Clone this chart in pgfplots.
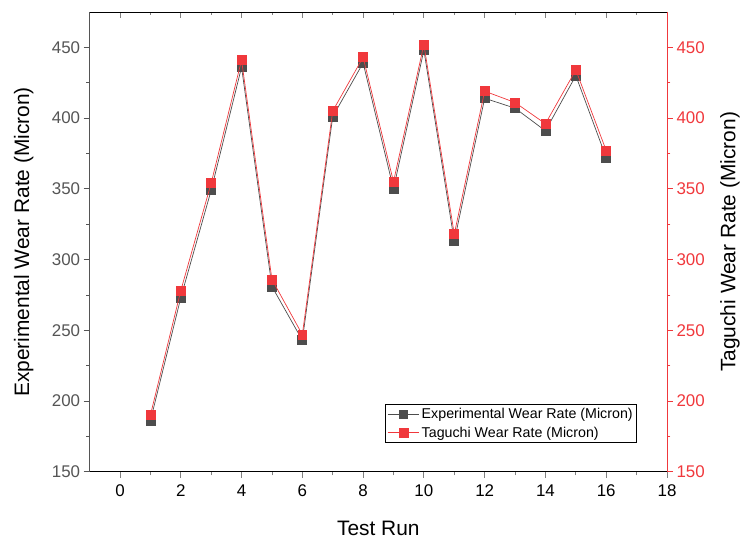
\documentclass[border=0pt]{standalone}
\usepackage{pgfplots}
\pgfplotsset{compat=1.18}
\usepackage{fontspec}
\setmainfont{Liberation Sans}
\definecolor{expc}{HTML}{4D4D4D}
\definecolor{tagc}{HTML}{F0383C}
\definecolor{axg}{HTML}{555555}
\begin{document}
\begin{tikzpicture}
\pgfplotsset{
  common/.style={
    scale only axis, width=580pt, height=462pt,
    xmin=-1, xmax=18, ymin=150, ymax=475,
    /pgf/number format/assume math mode=true,
    tick style={line width=0.8pt},
    major tick length=6pt, minor tick length=3.5pt,
    every axis plot/.append style={line width=0.7pt},
  }
}
% bottom x + left y
\begin{axis}[common, name=ax,
  axis x line*=bottom, axis y line*=left,
  tick align=outside,
  xtick={0,2,...,18}, minor x tick num=1,
  ytick={150,200,...,450}, minor y tick num=1,
  x axis line style={black, line width=0.8pt},
  y axis line style={axg, line width=0.8pt},
  ytick style={axg},
  xticklabel style={font=\fontsize{17}{19}\selectfont, black, yshift=-3pt},
  yticklabel style={font=\fontsize{17}{19}\selectfont, axg},
  xlabel={Test Run}, ylabel={Experimental Wear Rate (Micron)},
  xlabel style={font=\fontsize{21}{23}\selectfont, at={(axis description cs:0.5,-0.124)}, anchor=center},
  ylabel style={font=\fontsize{21}{23}\selectfont, at={(axis description cs:-0.114,0.5)}, anchor=center},
]
\addplot[expc, mark=square*, mark size=4.5pt, mark options={fill=expc, draw=expc}] coordinates {
(1,186) (2,273) (3,349) (4,436) (5,281) (6,243) (7,401) (8,439)
(9,350) (10,448) (11,313) (12,414) (13,407) (14,391) (15,430) (16,372)};
\end{axis}
% top x (inward ticks)
\begin{axis}[common,
  axis x line*=top, axis y line=none,
  tick align=inside,
  xtick={0,2,...,18}, minor x tick num=1,
  xticklabels={},
  x axis line style={black, line width=0.8pt},
]
\end{axis}
% right y (red)
\begin{axis}[common,
  axis x line=none, axis y line*=right,
  tick align=outside,
  ytick={150,200,...,450}, minor y tick num=1,
  y axis line style={tagc, line width=0.8pt},
  ytick style={tagc},
  yticklabel style={font=\fontsize{17}{19}\selectfont, tagc},
  ylabel={Taguchi Wear Rate (Micron)},
  ylabel style={font=\fontsize{21}{23}\selectfont, at={(axis description cs:1.109,0.5)}, anchor=center, rotate=0},
  legend style={at={(0.948,0.063)}, anchor=south east, draw=black, line width=0.6pt,
    font=\fontsize{14.3}{16}\selectfont, inner sep=2pt, row sep=3pt,
    legend cell align=left},
  legend image code/.code={
    \draw[#1, mark repeat=2, mark phase=2] plot coordinates {(0pt,0pt) (16pt,0pt) (32pt,0pt)};},
]
\addlegendimage{expc, line width=0.7pt, mark=square*, mark size=4pt, mark options={fill=expc, draw=expc}}
\addlegendentry{Experimental Wear Rate (Micron)}
\addplot[tagc, mark=square*, mark size=4.5pt, mark options={fill=tagc, draw=tagc}] coordinates {
(1,190) (2,278) (3,354) (4,441) (5,286) (6,247) (7,405) (8,443)
(9,355) (10,452) (11,318) (12,419) (13,411) (14,396) (15,434) (16,377)};
\addlegendentry{Taguchi Wear Rate (Micron)}
\end{axis}
\path ([xshift=-90pt,yshift=-66pt]ax.south west) ([xshift=73pt,yshift=12pt]ax.north east);
\end{tikzpicture}
\end{document}
